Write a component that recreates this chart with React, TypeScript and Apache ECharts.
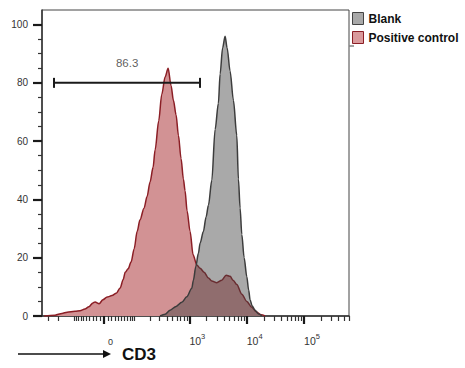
import React, { useEffect, useRef } from 'react';
import * as echarts from 'echarts';

// Biexponential-like display: axis coordinate = asinh(intensity / COFACTOR)
const COFACTOR = 65;
const X_RANGE = [-390, 606000];
const Y_RANGE = [0, 105];

// Positive control (red) histogram: CD3 intensity vs. normalized count
const redX = [-359, -331, -228, -170, -136, -94, -73, -55, -42, -30, -24, -13, -3, 8, 21, 33, 45, 55, 62, 73, 85, 99, 114, 130, 155, 177, 201, 228, 248, 288, 326, 374, 423, 477, 524, 584, 641, 714, 784, 838, 910, 1026, 1158, 1345, 1534, 1803, 2145, 2457, 3003, 3673, 4364, 5122, 5781, 6695, 8190, 10010, 12220, 14550, 17780, 20870];
const redY = [0, 0, 0.3, 0.9, 1.3, 1.6, 1.8, 2.4, 3.2, 4.5, 4.8, 4.2, 5.6, 6.5, 7.0, 7.8, 9.6, 12.5, 15, 16.2, 18.5, 23, 29, 33, 37, 41, 46, 51, 57, 67, 76, 82, 85, 79, 74, 69, 62, 54, 47, 43, 36, 29, 21, 17.5, 16.4, 15, 13, 12, 11.4, 12.3, 14, 13.6, 12.3, 10.8, 7.5, 5, 3, 1.5, 0.4, 0];

// Blank (grey) histogram
const greyX = [305, 374, 458, 584, 735, 899, 1099, 1172, 1292, 1433, 1534, 1752, 1953, 2145, 2457, 2805, 3200, 3428, 3790, 4189, 4543, 5122, 5850, 6695, 7150, 7657, 8190, 8990, 10010, 10770, 11440, 12400, 13975, 15780, 18510];
const greyY = [0, 0.6, 2, 3.3, 4.7, 6.6, 9.5, 12.3, 17, 21.5, 25, 29, 34, 38, 46.6, 64, 73, 83, 92, 96, 92, 84, 74, 62, 47, 37, 28, 20, 13.5, 9, 5.5, 3.5, 2, 0.8, 0];

// Gate
const gateRange = [-238, 1530];
const gateLevel = 80;
const gateLabel = '86.3';
const gateLabelAt = 69;

// Ticks
const xMajorTicks = [0, 1000, 10000, 100000];
const xMinorMultipliers = [1, 2, 3, 4, 5, 6, 7, 8, 9];
const xMinorDecades = [10, 100, 1000, 10000, 100000];
const yMajorTicks = [0, 20, 40, 60, 80, 100];
const yMinorTicks = [5, 10, 15, 25, 30, 35, 45, 50, 55, 65, 70, 75, 85, 90, 95];

const legendNames = ['Blank', 'Positive control'];

const T = (v: number) => Math.asinh(v / COFACTOR);

export default function App() {
  const ref = useRef<HTMLDivElement>(null);
  useEffect(() => {
    if (!ref.current) return;
    const chart = echarts.init(ref.current, undefined, { renderer: 'svg' });

    const xMin = T(X_RANGE[0]);
    const xMax = T(X_RANGE[1]);
    const minor: number[] = [];
    xMinorDecades.forEach((d) => {
      xMinorMultipliers.forEach((m) => {
        const v = d * m;
        if (xMajorTicks.indexOf(v) >= 0) return;
        [v, -v].forEach((w) => {
          const t = T(w);
          if (t > xMin && t < xMax) minor.push(t);
        });
      });
    });

    const font = 'Liberation Sans, Arial, sans-serif';
    const redData = redX.map((x, i) => [T(x), redY[i]]);
    const greyData = greyX.map((x, i) => [T(x), greyY[i]]);

    chart.setOption({
      animation: false,
      grid: {
        left: 42, top: 10, width: 307, height: 306,
        show: true, borderColor: '#444', borderWidth: 1, backgroundColor: 'transparent',
      },
      legend: {
        orient: 'vertical', left: 352, top: 12, itemWidth: 11, itemHeight: 12, itemGap: 6,
        padding: 0, icon: 'rect', selectedMode: false,
        textStyle: { fontFamily: font, fontWeight: 'bold', fontSize: 12, color: '#111', padding: [1, 0, 0, 0] },
        data: [
          { name: legendNames[0], itemStyle: { color: '#a9a9a9', borderColor: '#444', borderWidth: 1 } },
          { name: legendNames[1], itemStyle: { color: '#d99a9c', borderColor: '#8b1e25', borderWidth: 1 } },
        ],
      },
      xAxis: [
        {
          type: 'value', min: xMin, max: xMax, position: 'bottom',
          axisLine: { show: true, onZero: false, lineStyle: { color: '#333', width: 1.5 } },
          splitLine: { show: false },
          axisTick: { show: true, customValues: xMajorTicks.map(T), length: 8, lineStyle: { color: '#1a1a1a', width: 2.2 } },
          axisLabel: {
            show: true, customValues: xMajorTicks.map(T), margin: 16, align: 'left',
            formatter: (v: number) => {
              const raw = Math.round(COFACTOR * Math.sinh(v));
              if (raw === 0) return '{z|0}';
              return '{b|10}{s|' + Math.round(Math.log10(raw)) + '}';
            },
            rich: {
              z: { fontFamily: font, fontSize: 9, color: '#333', padding: [0, 0, 0, 4], lineHeight: 14, verticalAlign: 'bottom' },
              b: { fontFamily: font, fontSize: 10.5, color: '#333', lineHeight: 14, verticalAlign: 'bottom' },
              s: { fontFamily: font, fontSize: 7.5, color: '#333', lineHeight: 9, verticalAlign: 'top' },
            },
          },
        },
        {
          type: 'value', min: xMin, max: xMax, position: 'bottom',
          axisLine: { show: false, onZero: false }, splitLine: { show: false }, axisLabel: { show: false },
          axisTick: { show: true, customValues: minor, length: 5, lineStyle: { color: '#333', width: 1.2 } },
        },
      ],
      yAxis: [
        {
          type: 'value', min: Y_RANGE[0], max: Y_RANGE[1], position: 'left',
          axisLine: { show: true, onZero: false, lineStyle: { color: '#333', width: 1.5 } },
          splitLine: { show: false },
          axisTick: { show: true, customValues: yMajorTicks, length: 9, lineStyle: { color: '#1a1a1a', width: 2.2 } },
          axisLabel: { show: true, customValues: yMajorTicks, margin: 14, fontFamily: font, fontSize: 10, color: '#333' },
        },
        {
          type: 'value', min: Y_RANGE[0], max: Y_RANGE[1], position: 'left',
          axisLine: { show: false, onZero: false }, splitLine: { show: false }, axisLabel: { show: false },
          axisTick: { show: true, customValues: yMinorTicks, length: 4, lineStyle: { color: '#333', width: 1.2 } },
        },
      ],
      series: [
        {
          name: legendNames[1], type: 'line', data: redData, showSymbol: false, symbol: 'none',
          smooth: 0.3, smoothMonotone: 'x',
          lineStyle: { color: '#8b1e25', width: 1.5 },
          itemStyle: { color: '#8b1e25' },
          areaStyle: { color: '#d29294', opacity: 1 },
          z: 2,
        },
        {
          name: legendNames[0], type: 'line', data: greyData, showSymbol: false, symbol: 'none',
          smooth: 0.3, smoothMonotone: 'x',
          lineStyle: { color: '#3c3c3c', width: 1.5 },
          itemStyle: { color: '#3c3c3c' },
          areaStyle: { color: 'rgba(64,64,64,0.45)', opacity: 1 },
          z: 3,
        },
        {
          name: 'gate', type: 'line', data: gateRange.map((x) => [T(x), gateLevel]),
          symbol: 'rect', symbolSize: [2, 10], showSymbol: true,
          lineStyle: { color: '#1a1a1a', width: 2 }, itemStyle: { color: '#1a1a1a' },
          z: 5, silent: true,
        },
        {
          name: 'gateLabel', type: 'scatter', data: [[T(gateLabelAt), gateLevel]], symbolSize: 0,
          label: { show: true, position: 'top', distance: 14, formatter: gateLabel, fontFamily: font, fontSize: 11.5, color: '#333' },
          z: 6, silent: true,
        },
      ],
      graphic: [
        { type: 'line', shape: { x1: 18, y1: 354, x2: 104, y2: 354 }, style: { stroke: '#111', lineWidth: 1.5 } },
        { type: 'polygon', shape: { points: [[103, 350], [111, 354], [103, 358]] }, style: { fill: '#111' } },
        { type: 'text', x: 122, y: 354, style: { text: 'CD3', font: 'bold 17px Liberation Sans, Arial, sans-serif', fill: '#111', verticalAlign: 'middle' } },
        { type: 'line', shape: { x1: 349.5, y1: 46, x2: 354, y2: 46 }, style: { stroke: '#444', lineWidth: 1 } },
      ],
    });
    return () => chart.dispose();
  }, []);
  return <div ref={ref} style={{ width: 465, height: 368, position: 'absolute', left: 0, top: 0 }} />;
}
